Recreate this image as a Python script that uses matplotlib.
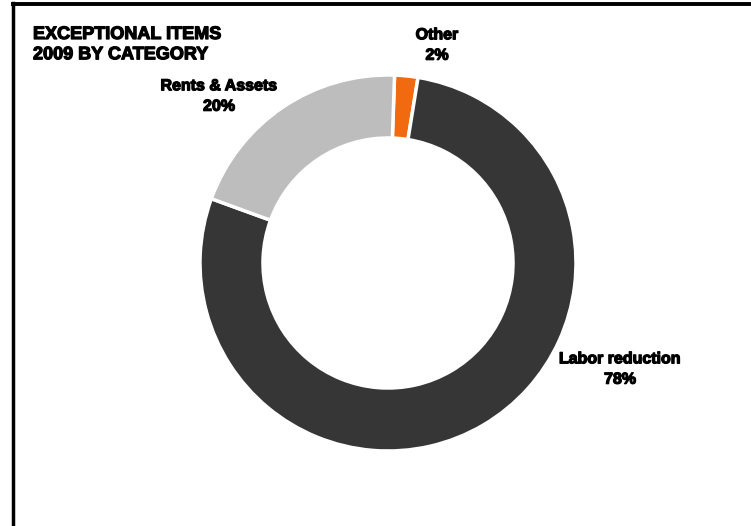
import matplotlib.pyplot as plt
import matplotlib.patheffects as pe
from matplotlib.lines import Line2D

plt.rcParams['font.family'] = ['Liberation Sans', 'DejaVu Sans']

categories = ['Other', 'Labor reduction', 'Rents & Assets']
shares = [2, 78, 20]
colors = ['#f26a0f', '#363636', '#bdbdbd']

W, H = 751, 526
fig = plt.figure(figsize=(W / 100, H / 100), dpi=100)

# donut axes: centre at (388, 263) px, outer radius 188 px
cx, cy, r = 388, 263, 188
ax = fig.add_axes([(cx - r) / W, (H - cy - r) / H, 2 * r / W, 2 * r / H])
ax.pie(shares, colors=colors, startangle=88, counterclock=False, radius=1,
       wedgeprops=dict(width=0.335, edgecolor='white', linewidth=2.5))
ax.set_xlim(-1, 1)
ax.set_ylim(-1, 1)
ax.set_aspect('equal')
ax.axis('off')

# frame lines on the left and top
fig.add_artist(Line2D([13 / W, 13 / W], [0, 1 - 3 / H], color='black', lw=2.5,
                      transform=fig.transFigure))
fig.add_artist(Line2D([13 / W, 1], [1 - 4 / H, 1 - 4 / H], color='black', lw=2.8,
                      transform=fig.transFigure))


def px(x, y):
    return x / W, 1 - y / H


# thicker strokes so the bold type reads heavier
heavy = [pe.withStroke(linewidth=0.9, foreground='black')]

fig.text(*px(33, 26), 'EXCEPTIONAL ITEMS\n2009 BY CATEGORY', fontsize=13,
         fontweight='bold', va='top', ha='left', linespacing=1.25,
         path_effects=heavy)

label_pos = {'Other': (437, 45), 'Rents & Assets': (219, 96),
             'Labor reduction': (620, 369)}
for name, val in zip(categories, shares):
    fig.text(*px(*label_pos[name]), f'{name}\n{val}%', fontsize=11.5,
             fontweight='bold', ha='center', va='center', linespacing=1.45,
             path_effects=heavy)

fig.savefig('out.png', dpi=100, facecolor='white')
